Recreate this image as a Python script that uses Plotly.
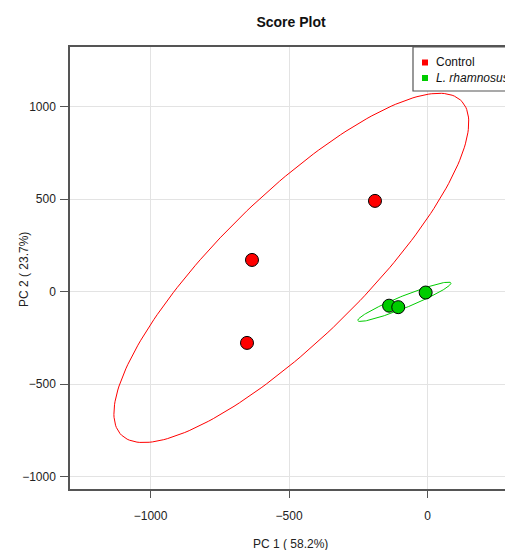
import numpy as np
import plotly.graph_objects as go

# ---- data ----
groups = ["Control", "L. rhamnosus"]
control_pc1 = [-190, -634, -652]
control_pc2 = [490, 171, -277]
lrh_pc1 = [-7, -139, -106]
lrh_pc2 = [-5, -76, -84]
x_ticks = [-1000, -500, 0]
y_ticks = [-1000, -500, 0, 500, 1000]

colors = {"Control": "#FF0000", "L. rhamnosus": "#00CC00"}
conf_level = 0.95


def conf_ellipse(x, y, level=0.95, n=200):
    x = np.asarray(x, float)
    y = np.asarray(y, float)
    cov = np.cov(np.vstack([x, y]))
    vals, vecs = np.linalg.eigh(cov)
    t = np.sqrt(-2.0 * np.log(1.0 - level))  # sqrt(chi2 quantile, df=2)
    th = np.linspace(0, 2 * np.pi, n)
    circ = np.vstack([np.cos(th), np.sin(th)])
    pts = vecs @ (np.sqrt(vals)[:, None] * circ) * t
    return pts[0] + x.mean(), pts[1] + y.mean()


fig = go.Figure()
data = {"Control": (control_pc1, control_pc2), "L. rhamnosus": (lrh_pc1, lrh_pc2)}
for g in groups:
    ex, ey = conf_ellipse(*data[g], level=conf_level)
    fig.add_trace(go.Scatter(x=ex, y=ey, mode="lines",
                             line=dict(color=colors[g], width=1),
                             hoverinfo="skip", showlegend=False))
for g in groups:
    fig.add_trace(go.Scatter(x=data[g][0], y=data[g][1], mode="markers", name=g,
                             marker=dict(color=colors[g], size=13,
                                         line=dict(color="black", width=1)),
                             showlegend=False))

# figure is a bit wider than the 505 px window: the right side is cropped,
# like in the reference
W, H = 525, 550
L, R, T, B = 70, 0, 47, 61
pw, ph = W - L - R, H - T - B
px_per_unit = 138.5 / 500.0
x_min = -1291
x_max = x_min + pw / px_per_unit


def px_x(p):
    return (p - L) / pw


def px_y(p):
    return 1 - (p - T) / ph


axis_col = "#555555"
font = "Liberation Sans, Arial, Helvetica, sans-serif"

shapes = [
    dict(type="rect", xref="paper", yref="paper", x0=px_x(413), x1=px_x(600),
         y0=px_y(91), y1=px_y(47), line=dict(color=axis_col, width=1.2),
         fillcolor="white", layer="above"),
]
annotations = []
leg_y = [62.5, 78]
for g, yy in zip(groups, leg_y):
    shapes.append(dict(type="rect", xref="paper", yref="paper",
                       x0=px_x(422), x1=px_x(428), y0=px_y(yy + 3), y1=px_y(yy - 3),
                       line=dict(width=0), fillcolor=colors[g], layer="above"))
    txt = g if g == "Control" else "<i>" + g + "</i>"
    annotations.append(dict(text=txt, xref="paper", yref="paper", x=px_x(434),
                            y=px_y(yy), xanchor="left", yanchor="middle",
                            showarrow=False, font=dict(size=12, color="#111111", family=font)))

# axis titles placed as annotations for exact positioning
annotations.append(dict(text="PC 1 ( 58.2%)", xref="paper", yref="paper",
                        x=px_x(290), y=px_y(544), xanchor="center", yanchor="middle",
                        showarrow=False, font=dict(size=12, color="#222222", family=font)))
annotations.append(dict(text="PC 2 ( 23.7%)", xref="paper", yref="paper",
                        x=px_x(24), y=px_y(270), xanchor="center", yanchor="middle",
                        textangle=-90, showarrow=False,
                        font=dict(size=12, color="#222222", family=font)))

fig.update_layout(
    width=W, height=H,
    margin=dict(l=L, r=R, t=T, b=B, autoexpand=False),
    plot_bgcolor="white", paper_bgcolor="white",
    font=dict(family=font, size=12, color="#222222"),
    title=dict(text="<b>Score Plot</b>", x=291 / W, xref="container", xanchor="center",
               y=1 - 22 / H, yref="container", yanchor="middle",
               font=dict(size=14, color="#111111")),
    shapes=shapes, annotations=annotations,
    showlegend=False,
)
fig.update_xaxes(range=[x_min, x_max], tickvals=x_ticks, ticks="outside", ticklen=7,
                 tickcolor=axis_col, showline=True, linecolor=axis_col, linewidth=1.5,
                 mirror=True, showgrid=True, gridcolor="#e3e3e3", gridwidth=1,
                 zeroline=False, ticklabelstandoff=8, automargin=False)
fig.update_yaxes(range=[-1066, 1321], tickvals=y_ticks, ticks="outside", ticklen=8,
                 tickcolor=axis_col, showline=True, linecolor=axis_col, linewidth=1.5,
                 mirror=False, showgrid=True, gridcolor="#e3e3e3", gridwidth=1,
                 zeroline=False, ticklabelstandoff=2, automargin=False)

fig.write_html(
    "out.html", config={"displayModeBar": False},
    post_script=("document.body.style.margin='0px';"
                 "document.body.style.overflow='hidden';"
                 "document.documentElement.style.overflow='hidden';"))
